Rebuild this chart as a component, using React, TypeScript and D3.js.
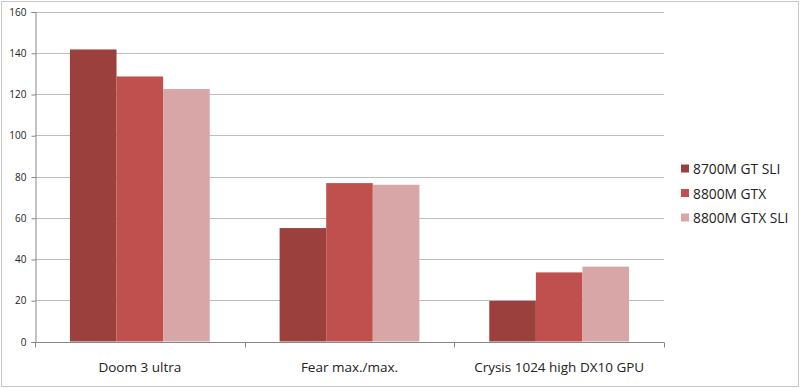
import { useRef, useEffect } from 'react';
import * as d3 from 'd3';

const categories = ['Doom 3 ultra', 'Fear max./max.', 'Crysis 1024 high DX10 GPU'];
const seriesNames = ['8700M GT SLI', '8800M GTX', '8800M GTX SLI'];
const gt8700Sli = [141.6, 55, 19.7];
const gtx8800 = [128.5, 76.8, 33.5];
const gtx8800Sli = [122.4, 76, 36.3];
const colors = ['#9b403c', '#c0504d', '#d9a6a8'];
const yTicks = [0, 20, 40, 60, 80, 100, 120, 140, 160];

export default function App() {
  const svgRef = useRef<SVGSVGElement>(null);

  useEffect(() => {
    const w = 800;
    const h = 388;
    const left = 35, right = 664, top = 11.5, bottom = 341.5;
    const svg = d3.select(svgRef.current)
      .attr('width', w)
      .attr('height', h)
      .style('background', '#fff');
    svg.selectAll('*').remove();

    svg.append('rect')
      .attr('x', 1.5).attr('y', 1.5)
      .attr('width', w - 3).attr('height', h - 3)
      .attr('fill', '#fff')
      .attr('stroke', '#c8c8c8');

    const series = [gt8700Sli, gtx8800, gtx8800Sli];

    const x0 = d3.scaleBand()
      .domain(categories)
      .range([left, right]);
    // Excel gap width 150%: 3 bars + 1.5 bar gap per category
    const x1 = d3.scaleBand()
      .domain(seriesNames)
      .range([x0.bandwidth() / 6, x0.bandwidth() * 5 / 6]);

    const y = d3.scaleLinear()
      .domain([0, 160])
      .range([bottom, top]);

    // gridlines
    svg.append('g')
      .selectAll('line')
      .data(yTicks.slice(1))
      .join('line')
      .attr('x1', left).attr('x2', right)
      .attr('y1', d => Math.round(y(d)) + 0.5)
      .attr('y2', d => Math.round(y(d)) + 0.5)
      .attr('stroke', '#bdbdbd');

    // bars
    series.forEach((vals, si) => {
      svg.append('g')
        .selectAll('rect')
        .data(vals)
        .join('rect')
        .attr('x', (d, i) => x0(categories[i])! + x1(seriesNames[si])!)
        .attr('width', x1.bandwidth())
        .attr('y', d => y(d))
        .attr('height', d => bottom - y(d))
        .attr('fill', colors[si]);
    });

    // y axis
    const yAxis = d3.axisLeft(y).tickValues(yTicks).tickSize(4).tickPadding(5);
    const gy = svg.append('g')
      .attr('transform', `translate(${left + 0.5},0.5)`)
      .call(yAxis);
    gy.selectAll('path, line').attr('stroke', '#868686');
    gy.selectAll('text')
      .attr('font-family', 'Open Sans, sans-serif')
      .attr('font-size', 10)
      .attr('fill', '#222');

    // x axis
    const gx = svg.append('g')
      .attr('transform', `translate(0,${Math.round(bottom) + 0.5})`);
    gx.append('line')
      .attr('x1', left).attr('x2', right)
      .attr('stroke', '#868686');
    const edges = [...categories.map(c => x0(c)!), right];
    gx.selectAll('.tk')
      .data(edges)
      .join('line')
      .attr('x1', d => Math.round(d) + 0.5).attr('x2', d => Math.round(d) + 0.5)
      .attr('y1', 0).attr('y2', 5)
      .attr('stroke', '#868686');
    gx.selectAll('text')
      .data(categories)
      .join('text')
      .attr('x', d => x0(d)! + x0.bandwidth() / 2)
      .attr('y', 29.5)
      .attr('text-anchor', 'middle')
      .attr('font-family', 'Open Sans, sans-serif')
      .attr('font-size', 13.5)
      .attr('fill', '#222')
      .text(d => d);

    // legend
    const lg = svg.append('g').attr('transform', 'translate(681,169)');
    const items = lg.selectAll('g')
      .data(seriesNames)
      .join('g')
      .attr('transform', (d, i) => `translate(0,${i * 24.5})`);
    items.append('rect')
      .attr('x', 0).attr('y', -4.5)
      .attr('width', 8).attr('height', 8)
      .attr('fill', (d, i) => colors[i]);
    items.append('text')
      .attr('x', 12)
      .attr('y', 5)
      .attr('font-family', 'Open Sans, sans-serif')
      .attr('font-size', 13.8)
      .attr('fill', '#222')
      .text(d => d);
  }, []);

  return <svg ref={svgRef} style={{ position: 'absolute', left: 0, top: 0 }}></svg>;
}
